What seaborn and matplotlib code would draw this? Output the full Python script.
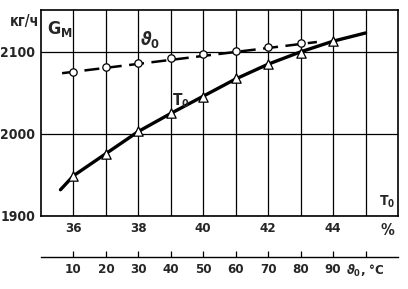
import matplotlib
matplotlib.use('Agg')
import matplotlib.pyplot as plt
import seaborn as sns

# T0, % -> G_M, kg/h (triangle markers)
t0_pts = [36, 37, 38, 39, 40, 41, 42, 43, 44]
gm_t0_pts = [1949, 1976, 2004, 2025, 2045, 2068, 2085, 2099, 2113]
# solid curve
t0_curve = [35.6, 36, 37, 38, 39, 40, 41, 42, 43, 44, 45]
gm_t0_curve = [1932, 1949, 1976, 2003, 2025, 2046, 2067, 2085, 2100, 2113, 2123]

# theta0, °C -> G_M (circle markers)
th_pts = [10, 20, 30, 40, 50, 60, 70, 80]
gm_th_pts = [2075, 2081, 2087, 2092, 2097, 2101, 2106, 2111]
# dashed line ends as traced
th_curve = [6.5, 85]
gm_th_curve = [2074, 2112]

t0_ticks = [36, 37, 38, 39, 40, 41, 42, 43, 44, 45]
t0_labels = ['36', '', '38', '', '40', '', '42', '', '44', '']
gm_ticks = [1900, 2000, 2100]
th_ticks = [10, 20, 30, 40, 50, 60, 70, 80, 90, 100]
th_labels = ['10', '20', '30', '40', '50', '60', '70', '80', '90', r'$\vartheta_0$, °C']


def main():
    sns.set_style('white')
    plt.rcParams['font.family'] = ['DejaVu Sans']
    plt.rcParams['font.stretch'] = 'condensed'
    plt.rcParams['font.weight'] = 'bold'

    fig = plt.figure(figsize=(4.08, 2.89), dpi=100)
    ax = fig.add_axes([0.1005, 0.2526, 0.875, 0.7128])

    # T0 curve
    sns.lineplot(x=t0_curve, y=gm_t0_curve, ax=ax, color='black', lw=2.4, zorder=3)
    sns.scatterplot(x=t0_pts, y=gm_t0_pts, ax=ax, marker='^', s=45,
                    facecolor='white', edgecolor='black', linewidth=0.9, zorder=4)

    ax.set_xlim(35, 46)
    ax.set_ylim(1900, 2151)
    ax.set_xticks(t0_ticks)
    ax.set_xticklabels(t0_labels, fontsize=9.5)
    ax.set_yticks(gm_ticks)
    ax.set_yticklabels([str(v) for v in gm_ticks], fontsize=10)
    ax.tick_params(length=0, pad=4)
    ax.grid(True, color='black', lw=0.9)
    for s in ax.spines.values():
        s.set_color('black')
        s.set_linewidth(1.2)
    ax.set_xlabel('')
    ax.set_ylabel('')

    # theta0 axis and curve
    ax2 = ax.twiny()
    sns.lineplot(x=th_curve, y=gm_th_curve, ax=ax2, color='black', lw=1.8,
                 dashes=False, zorder=3)
    ax2.lines[-1].set_dashes([6, 3])
    sns.scatterplot(x=th_pts, y=gm_th_pts, ax=ax2, marker='o', s=28,
                    facecolor='white', edgecolor='black', linewidth=0.9, zorder=4)
    ax2.set_xlim(0, 110)
    ax2.set_ylim(1900, 2151)
    ax2.xaxis.set_ticks_position('bottom')
    ax2.xaxis.set_label_position('bottom')
    ax2.spines['bottom'].set_position(('outward', 29.5))
    for side in ['top', 'left', 'right']:
        ax2.spines[side].set_visible(False)
    ax2.spines['bottom'].set_color('black')
    ax2.spines['bottom'].set_linewidth(1.0)
    ax2.set_xticks(th_ticks)
    ax2.set_xticklabels(th_labels, fontsize=9.5)
    ax2.tick_params(axis='x', direction='in', length=4, width=0.9, pad=4, color='black')
    ax2.set_xlabel('')
    ax2.set_ylabel('')

    # labels
    fig.text(0.061, 0.924, 'кг/ч', fontsize=10.5, ha='center', va='center')
    ax.text(0.018, 0.91, r'G$_\mathregular{M}$', transform=ax.transAxes, fontsize=13,
            ha='left', va='center')
    ax.text(38.37, 2115, r'$\vartheta_0$', fontsize=13, ha='center', va='center')
    ax.text(39.3, 2041, r'T$_\mathregular{0}$', fontsize=11, ha='center', va='center')
    ax.text(0.969, 0.068, r'T$_\mathregular{0}$', transform=ax.transAxes, fontsize=10,
            ha='center', va='center')
    ax.text(0.969, -0.068, '%', transform=ax.transAxes, fontsize=11,
            ha='center', va='center')

    fig.savefig('out.png', dpi=100)


if __name__ == '__main__':
    main()
